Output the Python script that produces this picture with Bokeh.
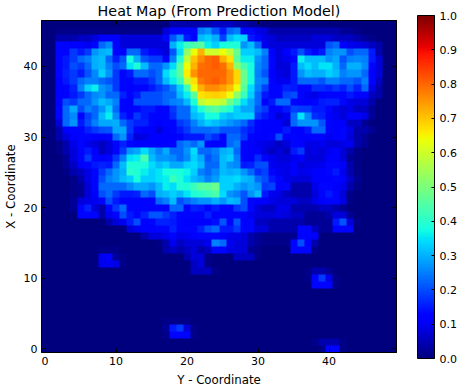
import numpy as np
from bokeh.plotting import figure
from bokeh.models import LinearColorMapper, ColorBar, FixedTicker, LinearAxis, Title, NumeralTickFormatter
from bokeh.embed import file_html
from bokeh.resources import INLINE

title_text = "Heat Map (From Prediction Model)"
x_label = "Y - Coordinate"
y_label = "X - Coordinate"
x_ticks = [0, 10, 20, 30, 40]
y_ticks = [0, 10, 20, 30, 40]
bar_ticks = [0.0, 0.1, 0.2, 0.3, 0.4, 0.5, 0.6, 0.7, 0.8, 0.9, 1.0]

# Estimated cell values x100, top row (y=46) first; missing trailing cells are 0
heat_rows = [
[0,0,0,0,0,0,0,0,0,0,0,0,0,0,0,0,0,0,4,4,4,4,4,4,6,6,6,4,4,2,2],
[0,0,1,1,1,1,1,1,1,1,1,1,1,1,1,1,1,8,13,13,13,13,25,27,21,15,23,25,13,13,9,8,4,4,4,4,4,4,4,4,4,4,2,2,1],
[0,0,4,4,4,6,6,8,11,11,11,8,8,8,8,8,8,13,21,27,15,13,31,33,30,19,31,34,33,15,13,9,8,6,6,6,6,6,8,8,8,6,6,6,4,2,1],
[0,0,13,13,11,12,10,13,23,26,13,8,8,8,8,8,8,8,30,36,42,44,46,36,33,38,39,39,27,31,23,10,8,8,8,8,8,8,8,8,21,23,12,10,9,8,6,4],
[0,0,13,13,18,15,18,27,30,31,13,11,23,23,15,11,10,8,21,34,52,64,72,60,60,64,58,48,33,33,31,25,11,8,11,15,20,15,12,15,25,27,27,20,23,23,15,4],
[0,0,13,15,18,23,25,30,31,23,16,21,38,30,21,18,18,13,25,39,58,70,76,80,81,72,67,46,36,36,27,23,13,8,10,13,36,31,31,31,27,29,21,25,26,25,15,8],
[0,0,13,15,20,18,23,30,31,25,20,23,35,39,31,23,23,27,34,46,64,72,79,80,81,79,72,52,44,38,26,23,13,8,8,15,31,34,31,35,35,30,23,30,30,26,13,8],
[0,0,13,16,18,15,21,26,33,27,18,13,15,23,23,20,23,34,39,46,66,75,80,80,80,80,75,68,48,38,25,21,11,9,8,15,27,31,30,30,33,31,25,27,27,23,11,8],
[0,0,11,15,18,23,25,25,23,21,18,13,13,15,15,18,23,31,36,42,58,67,78,80,81,79,75,68,48,38,26,25,13,10,10,15,23,23,23,21,25,25,23,23,21,25,11,6],
[0,0,11,13,16,25,33,36,27,25,18,13,11,13,13,15,18,21,25,33,42,64,72,76,76,74,71,64,46,34,25,19,13,13,16,15,13,13,17,17,16,18,16,20,16,23,9,4],
[0,0,11,11,15,18,23,26,27,23,23,16,13,15,20,20,20,23,23,31,36,46,67,68,69,68,64,52,42,33,23,15,13,13,19,20,13,10,9,11,13,13,13,15,13,13,6,4],
[0,0,11,20,18,23,23,27,31,29,25,13,11,20,20,20,20,23,25,26,31,39,58,61,60,58,48,42,34,29,23,11,15,23,23,13,11,11,13,15,16,16,13,9,8,8,4],
[0,0,13,23,29,20,25,23,27,33,23,13,11,13,15,15,13,13,18,23,23,33,39,44,46,42,39,33,29,29,21,18,12,13,15,19,18,18,15,15,13,9,8,9,6,6,2],
[0,0,13,23,26,13,19,23,31,36,26,16,13,18,15,13,13,13,17,23,23,31,33,38,38,33,31,33,33,33,18,15,13,8,10,23,35,26,17,16,11,10,8,11,11,9,2],
[0,0,8,23,27,15,20,25,29,29,30,23,18,16,16,13,12,13,13,18,20,25,30,33,31,29,27,25,23,17,13,11,11,11,8,23,27,27,27,21,13,11,11,6,6,2],
[0,0,4,11,13,13,16,18,20,21,29,29,18,13,11,11,8,11,13,15,18,23,23,23,24,21,21,21,17,15,13,11,11,11,15,11,12,15,23,23,13,11,13,9,4,4,2],
[0,0,4,8,11,13,13,11,12,13,23,27,16,8,9,11,11,11,11,13,15,15,15,20,17,13,23,23,18,13,11,11,13,20,11,13,11,11,13,13,10,12,13,8,4,2],
[0,0,1,4,9,13,10,8,6,8,13,16,13,11,11,11,11,11,13,23,25,23,27,13,12,13,23,25,13,11,10,9,8,6,8,13,13,9,9,10,8,8,9,10,4,2],
[0,0,1,4,8,13,15,11,6,8,13,18,27,29,34,29,25,29,23,23,27,34,23,23,25,30,31,23,13,11,11,8,6,8,6,15,18,8,9,8,10,11,8,4,1],
[0,0,0,2,8,13,18,13,11,13,18,25,35,36,44,31,27,27,26,23,26,33,29,21,24,31,33,25,13,11,17,13,10,8,8,10,11,8,8,8,11,11,8,2,1],
[0,0,0,2,6,11,13,15,16,15,23,31,39,39,39,34,31,33,29,29,33,34,31,23,23,31,27,26,15,16,20,20,10,9,9,11,8,9,9,10,13,13,11,4,1],
[0,0,0,1,4,6,9,13,18,23,27,30,40,39,36,33,35,38,39,38,37,33,25,23,26,31,30,31,27,23,17,19,13,10,9,11,9,10,11,11,13,15,10,4,1],
[0,0,0,0,1,4,9,13,20,25,27,31,33,38,33,33,35,36,42,39,35,31,29,25,28,33,33,34,31,30,23,20,15,13,9,8,8,8,11,11,11,13,11,6,2],
[0,0,0,0,1,2,8,13,23,23,23,23,26,29,29,27,31,36,34,39,39,42,46,46,48,33,33,30,27,29,27,18,19,11,13,4,4,4,9,13,13,11,10,4,1],
[0,0,0,0,1,2,8,11,20,23,18,15,15,16,23,20,30,31,33,31,35,39,40,42,44,34,27,25,21,27,31,15,10,9,6,4,4,4,8,13,15,13,8,1],
[0,0,0,0,2,8,9,10,13,20,15,13,13,13,13,13,23,25,31,20,23,25,27,27,30,27,31,30,20,13,11,11,9,8,8,8,6,6,9,11,13,13,9,1],
[0,0,0,0,2,13,16,8,4,13,18,23,13,13,13,13,13,13,23,23,13,16,15,13,15,13,13,18,20,13,8,6,6,9,9,4,4,4,4,6,6,4,2],
[0,0,0,0,0,13,13,13,4,10,13,20,15,13,16,21,21,18,16,13,13,13,13,16,11,13,13,13,13,10,8,8,8,9,8,6,6,2,2,2,4,8,8,2],
[0,0,0,0,0,0,0,0,0,4,8,10,15,20,12,13,16,16,15,13,12,12,12,11,14,21,13,21,11,13,6,6,4,4,4,4,4,2,2,2,2,15,21,8,1],
[0,0,0,0,0,0,0,0,0,0,0,0,8,10,11,12,13,13,16,13,13,13,16,21,23,15,15,18,13,13,8,8,4,4,4,4,13,13,6,2,2,13,13,13],
[0,0,0,0,0,0,0,0,0,0,0,0,0,0,4,8,8,10,13,9,10,11,13,13,13,11,9,9,8,4,2,1,1,1,1,2,13,13,11],
[0,0,0,0,0,0,0,0,0,0,0,0,0,0,0,0,1,4,10,6,8,8,8,10,25,23,10,8,8,4,2,1,1,1,1,13,20,11,4],
[0,0,0,0,0,0,0,0,1,1,1,0,0,0,0,0,0,4,6,4,6,8,4,6,13,13,9,8,8,2,1,0,0,0,0,13,13,13,1],
[0,0,0,0,0,0,0,0,10,12,2,1,0,0,0,0,0,0,0,0,4,8,8,1,0,0,0,6,6,6,1],
[0,0,0,0,0,0,0,0,10,10,9,1,0,0,0,0,0,0,0,0,0,6,8,1],
[0,0,0,0,0,0,0,0,0,0,0,0,0,0,0,0,0,0,0,0,0,6,6,6,1,0,0,0,0,0,0,0,0,0,0,0,0,1,4,4,2],
[0,0,0,0,0,0,0,0,0,0,0,0,0,0,0,0,0,0,0,0,0,0,0,0,0,0,0,0,0,0,0,0,0,0,0,0,0,1,13,18,9,1],
[0,0,0,0,0,0,0,0,0,0,0,0,0,0,0,0,0,0,0,0,0,0,0,0,0,0,0,0,0,0,0,0,0,0,0,0,0,0,13,13,13,1],
[0],
[0],
[0],
[0],
[0,0,0,0,0,0,0,0,0,0,0,0,0,0,0,0,0,1,1,1,1],
[0,0,0,0,0,0,0,0,0,0,0,0,0,0,0,0,0,2,15,18,8,1],
[0,0,0,0,0,0,0,0,0,0,0,0,0,0,0,0,0,1,13,13,13,1],
[0,0,0,0,0,0,0,0,0,0,0,0,0,0,0,0,0,0,0,0,0,0,0,0,0,0,0,0,0,0,0,0,0,0,0,0,0,0,1,4,4,4,1],
[0,0,0,0,0,0,0,0,0,0,0,0,0,0,0,0,0,0,0,0,0,0,0,0,0,0,0,0,0,0,0,0,0,0,0,0,0,0,0,1,13,13,1],
]

grid = np.array([(r + [0] * 50)[:50] for r in heat_rows], dtype=float)[::-1] / 100.0

# matplotlib "jet" colour table
def jet(v):
    r = np.interp(v, [0, .35, .66, .89, 1], [0, 0, 1, 1, .5])
    g = np.interp(v, [0, .125, .375, .64, .91, 1], [0, 0, 1, 1, 0, 0])
    b = np.interp(v, [0, .11, .34, .65, 1], [.5, 1, 1, 0, 0])
    return "#%02x%02x%02x" % (int(r * 255), int(g * 255), int(b * 255))

palette = [jet(i / 255) for i in range(256)]
mapper = LinearColorMapper(palette=palette, low=0, high=1)

FS = "11px"
FONT = "DejaVu Sans"

p = figure(width=459, height=395, output_backend="svg", toolbar_location=None,
           x_range=(-0.5, 49.5), y_range=(-0.5, 46.5),
           frame_width=355, frame_height=332,
           min_border_left=41, min_border_right=63, min_border_top=23, min_border_bottom=40,
           margin=(-3, 0, 0, 0), background_fill_color="white")
p.image(image=[grid], x=-0.5, y=-0.5, dw=50, dh=47, color_mapper=mapper)
p.grid.visible = False
p.outline_line_color = "black"
p.outline_line_width = 1

for ax, ticks, label in ((p.xaxis[0], x_ticks, x_label), (p.yaxis[0], y_ticks, y_label)):
    ax.ticker = FixedTicker(ticks=ticks)
    ax.axis_label = label
    ax.axis_label_text_font = FONT
    ax.axis_label_text_font_size = "11.8px"
    ax.axis_label_text_font_style = "normal"
    ax.axis_label_text_color = "black"
    ax.major_label_text_font = FONT
    ax.major_label_text_font_size = FS
    ax.major_label_text_color = "black"
    ax.major_tick_in = 4
    ax.major_tick_out = 0
    ax.minor_tick_line_color = None
    ax.axis_line_color = "black"
    ax.major_tick_line_color = "black"
    ax.major_label_standoff = 4

p.xaxis[0].axis_label_standoff = 5
p.yaxis[0].axis_label_standoff = 3

top = LinearAxis(ticker=FixedTicker(ticks=x_ticks), major_label_text_font_size="0px",
                 major_tick_in=4, major_tick_out=0, minor_tick_line_color=None,
                 major_label_standoff=0, major_label_text_color=None)
right = LinearAxis(ticker=FixedTicker(ticks=y_ticks), major_label_text_font_size="0px",
                   major_tick_in=4, major_tick_out=0, minor_tick_line_color=None,
                   major_label_standoff=0, major_label_text_color=None)
p.add_layout(top, "above")
p.add_layout(right, "right")

t = Title(text=title_text, align="center", text_font=FONT, text_font_size="14.3px",
          text_font_style="normal", text_color="black", standoff=4)
p.add_layout(t, "above")

cb = ColorBar(color_mapper=mapper, ticker=FixedTicker(ticks=bar_ticks),
              location=(376, -6), width=17, height=343, padding=0, margin=0,
              bar_line_color="black", bar_line_width=1,
              major_tick_in=3, major_tick_out=0, major_tick_line_color="black",
              minor_tick_line_color=None,
              major_label_text_font=FONT, major_label_text_font_size=FS,
              major_label_text_color="black", label_standoff=5,
              formatter=NumeralTickFormatter(format="0.0"),
              background_fill_color=None, border_line_color=None)
p.add_layout(cb, "center")

open("out.html", "w").write(file_html(p, INLINE))
